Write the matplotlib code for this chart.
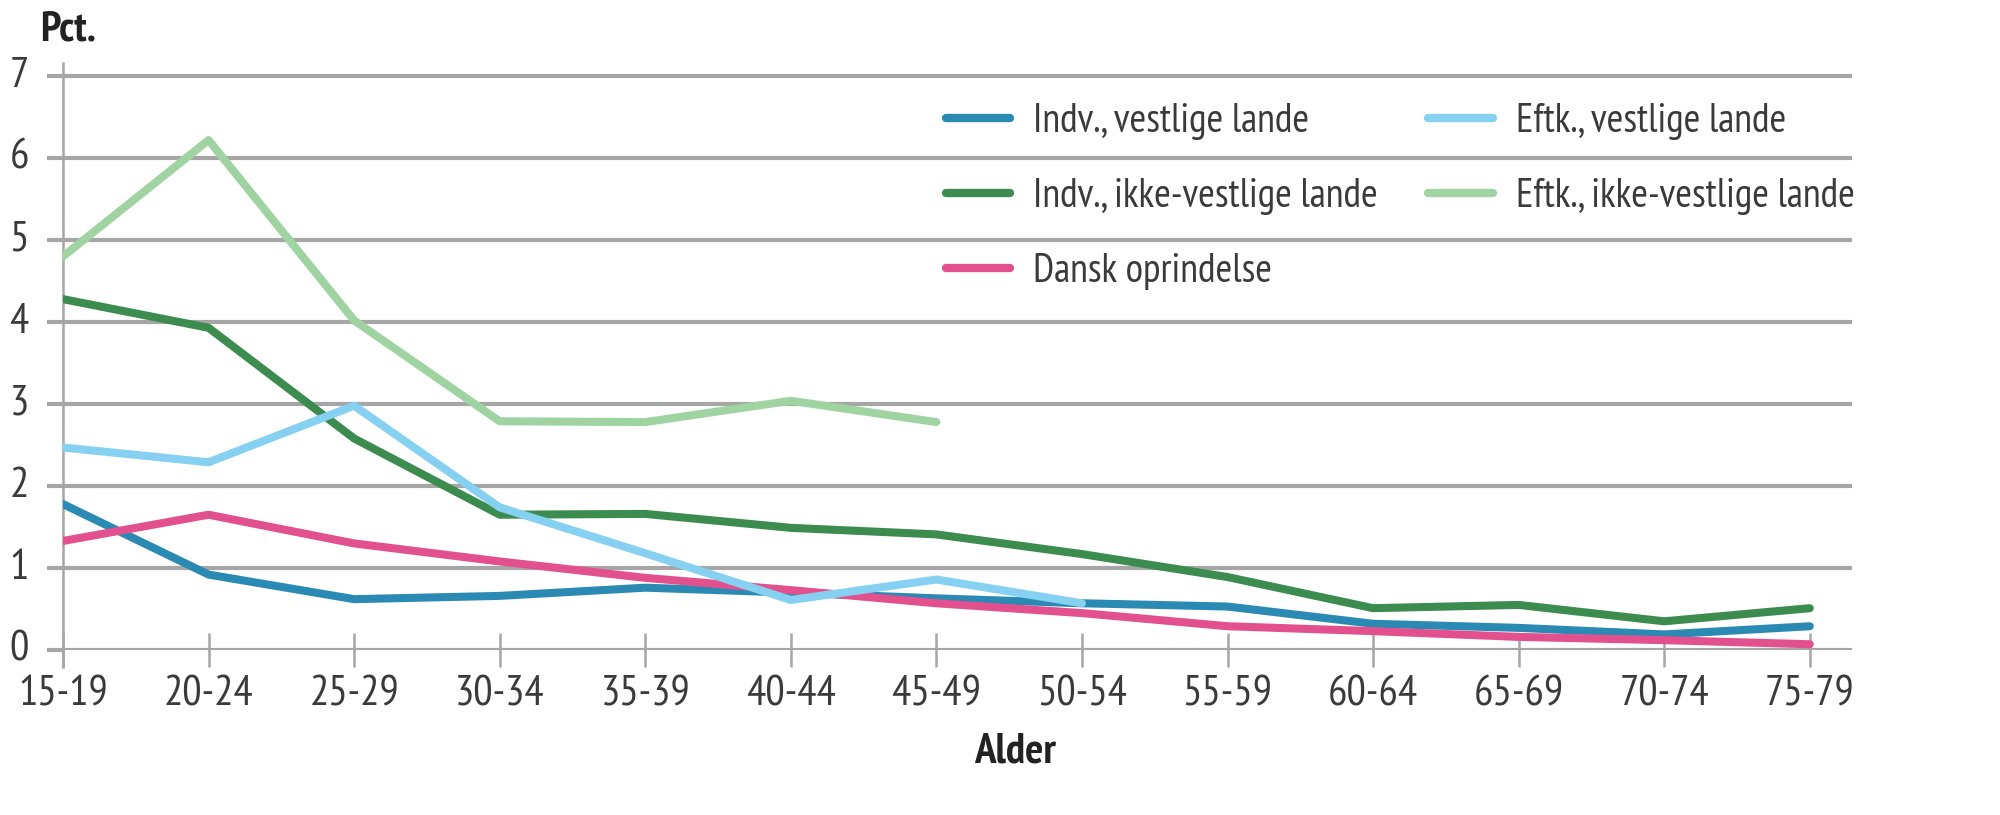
import numpy as np
import matplotlib
matplotlib.use('Agg')
import matplotlib.pyplot as plt
from matplotlib import font_manager

# data
age_groups = ['15-19', '20-24', '25-29', '30-34', '35-39', '40-44', '45-49',
              '50-54', '55-59', '60-64', '65-69', '70-74', '75-79']

indv_vest = [1.78, 0.92, 0.62, 0.66, 0.76, 0.70, 0.63, 0.57, 0.53, 0.32, 0.27, 0.19, 0.29]
indv_ikke_vest = [4.28, 3.93, 2.58, 1.65, 1.66, 1.49, 1.41, 1.17, 0.89, 0.51, 0.55, 0.35, 0.51]
dansk = [1.33, 1.65, 1.30, 1.08, 0.88, 0.73, 0.57, 0.45, 0.29, 0.23, 0.16, 0.12, 0.07]
eftk_vest = [2.47, 2.29, 2.98, 1.74, 1.18, 0.61, 0.86, 0.57]
eftk_ikke_vest = [4.80, 6.22, 4.02, 2.79, 2.78, 3.04, 2.78]

labels = ['Indv., vestlige lande', 'Indv., ikke-vestlige lande', 'Dansk oprindelse',
          'Eftk., vestlige lande', 'Eftk., ikke-vestlige lande']
colors = ['#2a8ab3', '#3c8b4f', '#e2508e', '#86d0f2', '#9fd4a2']

# pick a condensed sans if one is installed
names = set(f.name for f in font_manager.fontManager.ttflist)
candidates = ['PT Sans Narrow', 'Fira Sans Condensed', 'Roboto Condensed', 'Asap Condensed',
              'Archivo Narrow', 'IBM Plex Sans Condensed', 'Encode Sans Condensed',
              'Liberation Sans Narrow', 'Barlow Semi Condensed']
fam = next((c for c in candidates if c in names), 'DejaVu Sans')
plt.rcParams['font.family'] = [fam, 'DejaVu Sans']
if fam == 'DejaVu Sans':
    plt.rcParams['font.stretch'] = 'condensed'

fs_leg = 29
fs_tick = 31
fs_lab = 31
grid_col = '#a6a6a6'
txt_col = '#3a3a3a'


def pad(vals, n):
    out = np.full(n, np.nan)
    out[:len(vals)] = vals
    return out


n = len(age_groups)
x = np.arange(n)

W, H = 2000, 815
left_px, right_px, bot_px, top_px = 63, 1852, 650, 63
fig = plt.figure(figsize=(20, 8.15), dpi=100)
ax = fig.add_axes([left_px / W, 1 - bot_px / H, (right_px - left_px) / W, (bot_px - top_px) / H])

series = [indv_vest, indv_ikke_vest, dansk, eftk_vest, eftk_ikke_vest]
draw_order = [4, 1, 0, 2, 3]
lines = {}
for k, i in enumerate(draw_order):
    ln, = ax.plot(x, pad(series[i], n), color=colors[i], lw=5.8, solid_capstyle='round',
                  solid_joinstyle='round', zorder=3 + k)
    lines[i] = ln
handles = [lines[i] for i in range(5)]

ax.set_xlim(0, 12.29)
ax.set_ylim(0, 7.16)
ax.set_yticks(range(8))
ax.set_xticks(x)
ax.set_xticklabels(age_groups)
ax.yaxis.grid(True, color=grid_col, lw=3, zorder=1)
ax.set_axisbelow(True)

for s in ['top', 'right', 'bottom']:
    ax.spines[s].set_visible(False)
ax.spines['left'].set_color(grid_col)
ax.spines['left'].set_linewidth(1.8)
ax.spines['left'].set_bounds(-0.21, 7.16)
ax.spines['left'].set_zorder(2)

ax.tick_params(axis='x', direction='inout', length=24, width=1.8, color=grid_col,
               labelsize=fs_tick, labelcolor=txt_col, pad=6)
ax.tick_params(axis='y', direction='out', length=11.5, width=3, color=grid_col,
               labelsize=fs_tick, labelcolor=txt_col, pad=13)
for lab in ax.get_yticklabels():
    lab.set_va('center')

fig.text(40 / W, 1 - 30 / H, 'Pct.', fontsize=fs_lab, fontweight='bold', color='#222222',
         ha='left', va='center')
fig.text(1015 / W, 1 - 752 / H, 'Alder', fontsize=fs_lab, fontweight='bold', color='#222222',
         ha='center', va='center')

leg = ax.legend(handles, labels, ncol=2, loc='upper left',
                bbox_to_anchor=(946 / W, 1 - 103 / H), bbox_transform=fig.transFigure,
                frameon=False, fontsize=fs_leg, handlelength=1.6, handletextpad=0.57,
                columnspacing=1.24, labelspacing=0.94, borderpad=0, borderaxespad=0)
for t in leg.get_texts():
    t.set_color(txt_col)
for h in leg.get_lines():
    h.set_linewidth(6)
    h.set_solid_capstyle('round')

fig.savefig('out.png', dpi=100)
